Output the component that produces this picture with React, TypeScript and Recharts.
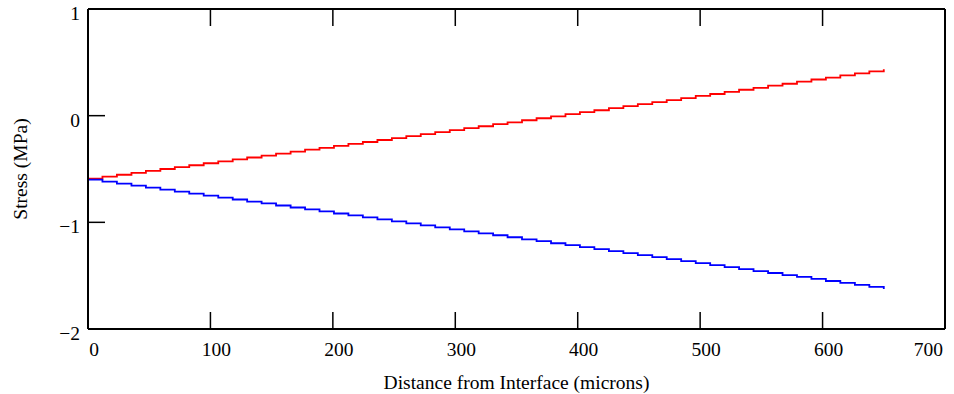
import { LineChart, Line, XAxis, YAxis } from "recharts"

// distance from interface (microns)
const distance = [
  0, 11.8, 23.6, 35.5, 47.3, 59.1, 70.9, 82.7, 94.5, 106.4, 118.2, 130, 141.8, 153.6,
  165.5, 177.3, 189.1, 200.9, 212.7, 224.5, 236.4, 248.2, 260, 271.8, 283.6, 295.5,
  307.3, 319.1, 330.9, 342.7, 354.5, 366.4, 378.2, 390, 401.8, 413.6, 425.5, 437.3,
  449.1, 460.9, 472.7, 484.5, 496.4, 508.2, 520, 531.8, 543.6, 555.5, 567.3, 579.1,
  590.9, 602.7, 614.5, 626.4, 638.2, 650,
]

// stress (MPa), red trace
const stressRed = [
  -0.59, -0.572, -0.554, -0.536, -0.518, -0.5, -0.482, -0.465, -0.446, -0.428, -0.41,
  -0.392, -0.374, -0.356, -0.338, -0.319, -0.302, -0.283, -0.265, -0.247, -0.228,
  -0.21, -0.191, -0.173, -0.155, -0.136, -0.117, -0.099, -0.08, -0.062, -0.043,
  -0.024, -0.006, 0.014, 0.033, 0.051, 0.07, 0.09, 0.108, 0.127, 0.146, 0.165, 0.185,
  0.203, 0.223, 0.243, 0.261, 0.281, 0.299, 0.319, 0.339, 0.357, 0.377, 0.397, 0.415,
  0.435,
]

// stress (MPa), blue trace
const stressBlue = [
  -0.6, -0.619, -0.637, -0.656, -0.674, -0.693, -0.712, -0.73, -0.749, -0.768, -0.786,
  -0.805, -0.823, -0.842, -0.861, -0.879, -0.898, -0.917, -0.935, -0.954, -0.972,
  -0.991, -1.01, -1.028, -1.047, -1.066, -1.084, -1.103, -1.121, -1.14, -1.159, -1.177,
  -1.196, -1.214, -1.233, -1.252, -1.27, -1.289, -1.308, -1.326, -1.345, -1.363,
  -1.382, -1.401, -1.419, -1.438, -1.457, -1.475, -1.494, -1.512, -1.531, -1.55,
  -1.568, -1.587, -1.606, -1.624,
]

const xTicks = [0, 100, 200, 300, 400, 500, 600, 700]
const yTicks = [-2, -1, 0, 1]

const data = distance.map((d, i) => ({ d, red: stressRed[i], blue: stressBlue[i] }))

const FONT = "'Liberation Serif', 'Times New Roman', serif"
const FS = 19.5

const fmt = (v: number) => (v < 0 ? "\u2212" + Math.abs(v) : String(v))

function BottomTick(props: any) {
  const { x, y, payload } = props
  const last = payload.value === 700
  const y0 = y - 1
  return (
    <g>
      <line x1={x} y1={y0} x2={x} y2={y0 - 16} stroke="#000" strokeWidth={1.5} />
      <text
        x={last ? x - 2 : x + 6}
        y={y0 + 28}
        textAnchor={last ? "end" : "middle"}
        fontFamily={FONT}
        fontSize={FS}
        fill="#000"
      >
        {fmt(payload.value)}
      </text>
    </g>
  )
}

function TopTick(props: any) {
  const { x, y } = props
  const y0 = y + 1
  return <line x1={x} y1={y0} x2={x} y2={y0 + 16} stroke="#000" strokeWidth={1.5} />
}

function LeftTick(props: any) {
  const { x, y, payload } = props
  const x0 = x + 1
  return (
    <g>
      <line x1={x0} y1={y} x2={x0 + 16} y2={y} stroke="#000" strokeWidth={1.5} />
      <text x={x0 - 9} y={y + 11} textAnchor="end" fontFamily={FONT} fontSize={FS} fill="#000">
        {fmt(payload.value)}
      </text>
    </g>
  )
}

function RightTick(props: any) {
  const { x, y } = props
  const x0 = x - 1
  return <line x1={x0} y1={y} x2={x0 - 15} y2={y} stroke="#000" strokeWidth={1.5} />
}

export default function App() {
  return (
    <div style={{ position: "absolute", left: 0, top: 0, background: "#fff" }}>
      <LineChart
        width={954}
        height={394}
        data={data}
        margin={{ top: 8, right: 8, bottom: 64, left: 87 }}
      >
        <XAxis
          dataKey="d"
          type="number"
          domain={[0, 700]}
          ticks={xTicks}
          interval={0}
          height={1}
          tickSize={0}
          tickMargin={0}
          tickLine={false}
          tick={<BottomTick />}
          axisLine={{ stroke: "#000", strokeWidth: 2 }}
          label={(p: any) => (
            <text
              x={p.viewBox.x + p.viewBox.width / 2}
              y={p.viewBox.y + 60}
              textAnchor="middle"
              fontFamily={FONT}
              fontSize={FS}
              fill="#000"
            >
              Distance from Interface (microns)
            </text>
          )}
        />
        <XAxis
          xAxisId="top"
          orientation="top"
          dataKey="d"
          type="number"
          domain={[0, 700]}
          ticks={xTicks}
          interval={0}
          height={1}
          tickSize={0}
          tickMargin={0}
          tickLine={false}
          tick={<TopTick />}
          axisLine={{ stroke: "#000", strokeWidth: 2 }}
        />
        <YAxis
          type="number"
          domain={[-2, 1]}
          ticks={yTicks}
          interval={0}
          width={1}
          tickSize={0}
          tickMargin={0}
          tickLine={false}
          tick={<LeftTick />}
          axisLine={{ stroke: "#000", strokeWidth: 2 }}
          label={(p: any) => {
            const cx = p.viewBox.x - 67
            const cy = p.viewBox.y + p.viewBox.height / 2
            return (
              <text
                x={cx}
                y={cy}
                transform={`rotate(-90 ${cx} ${cy})`}
                textAnchor="middle"
                dominantBaseline="central"
                fontFamily={FONT}
                fontSize={FS}
                fill="#000"
              >
                Stress (MPa)
              </text>
            )
          }}
        />
        <YAxis
          yAxisId="right"
          orientation="right"
          type="number"
          domain={[-2, 1]}
          ticks={yTicks}
          interval={0}
          width={1}
          tickSize={0}
          tickMargin={0}
          tickLine={false}
          tick={<RightTick />}
          axisLine={{ stroke: "#000", strokeWidth: 2 }}
        />
        <Line
          type="stepAfter"
          dataKey="red"
          stroke="#ff0000"
          strokeWidth={1.8}
          dot={false}
          isAnimationActive={false}
        />
        <Line
          type="stepAfter"
          dataKey="blue"
          stroke="#0000ff"
          strokeWidth={1.8}
          dot={false}
          isAnimationActive={false}
        />
      </LineChart>
    </div>
  )
}
